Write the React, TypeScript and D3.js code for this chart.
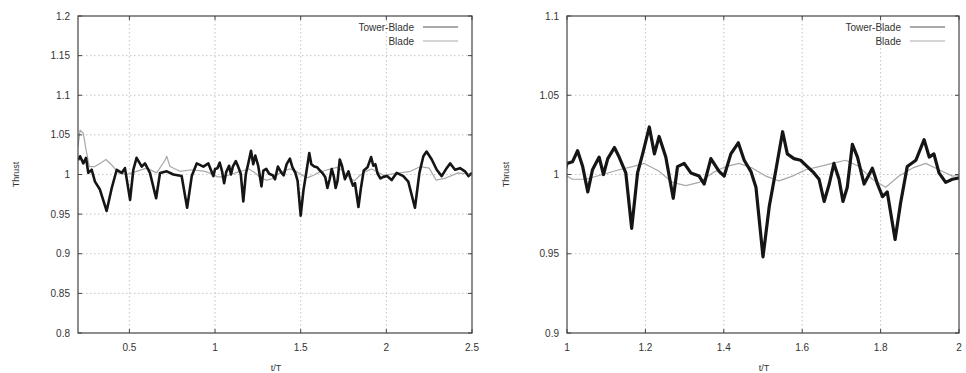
import React, { useRef, useEffect } from 'react';
import * as d3 from 'd3';

// Tower-Blade thrust (t/T, normalised thrust)
const towerT = [
  0.2, 0.212, 0.231, 0.247, 0.26, 0.28, 0.299, 0.328, 0.367, 0.397, 0.426, 0.455, 0.474, 0.504,
  0.523, 0.542, 0.572, 0.591, 0.62, 0.656, 0.679, 0.718, 0.757, 0.805, 0.837, 0.864, 0.893, 0.932,
  0.961, 0.99,
  1.0, 1.014, 1.027, 1.04, 1.053, 1.065, 1.082, 1.093, 1.104, 1.121, 1.133, 1.15, 1.165, 1.18,
  1.193, 1.21, 1.223, 1.235, 1.252, 1.271, 1.282, 1.299, 1.316, 1.337, 1.35, 1.367, 1.388, 1.401,
  1.418, 1.437, 1.452, 1.469, 1.482, 1.5, 1.516, 1.533, 1.55, 1.562, 1.579, 1.596, 1.613, 1.63,
  1.643, 1.656, 1.669, 1.681, 1.694, 1.704, 1.715, 1.728, 1.741, 1.758, 1.779, 1.792, 1.805, 1.817,
  1.837, 1.851, 1.868, 1.89, 1.911, 1.924, 1.936, 1.949, 1.966, 1.983,
  2.004, 2.031, 2.06, 2.099, 2.128, 2.167, 2.193, 2.216, 2.235, 2.265, 2.294, 2.323, 2.352, 2.372,
  2.401, 2.43, 2.459, 2.479, 2.5,
];
const towerV = [
  1.018, 1.023, 1.014, 1.021, 1.002, 1.006, 0.991, 0.981, 0.954, 0.983, 1.006, 1.002, 1.008, 0.968,
  1.006, 1.021, 1.01, 1.014, 1.002, 0.97, 1.002, 1.004, 1.0, 0.998, 0.958, 0.998, 1.014, 1.01,
  1.014, 0.998,
  1.007, 1.008, 1.015, 1.005, 0.989, 1.003, 1.011, 1.0, 1.01, 1.017, 1.011, 1.001, 0.966, 1.001,
  1.013, 1.03, 1.013, 1.024, 1.011, 0.985, 1.005, 1.007, 1.001, 0.999, 0.994, 1.01, 1.002, 0.999,
  1.013, 1.02, 1.009, 1.002, 0.992, 0.948, 0.98, 1.003, 1.027, 1.013, 1.01, 1.009, 1.005, 1.001,
  0.997, 0.983, 0.994, 1.007, 0.997, 0.983, 0.992, 1.019, 1.011, 0.994, 1.004, 0.994, 0.986, 0.989,
  0.959, 0.982, 1.005, 1.009, 1.022, 1.011, 1.013, 1.001, 0.995, 0.997,
  0.998, 0.993, 1.002, 0.998, 0.991, 0.958, 1.002, 1.023, 1.029, 1.019, 1.006, 0.998, 1.008, 1.014,
  1.006, 1.008, 1.004, 0.998, 1.002,
];

// Blade-only thrust
const bladeT = [
  0.2, 0.212, 0.231, 0.247, 0.266, 0.299, 0.328, 0.363, 0.397, 0.436, 0.484, 0.542, 0.601, 0.659,
  0.708, 0.718, 0.737, 0.795, 0.864, 0.942,
  1.0, 1.014, 1.048, 1.091, 1.133, 1.167, 1.197, 1.235, 1.269, 1.303, 1.337, 1.371, 1.405, 1.439,
  1.473, 1.507, 1.541, 1.575, 1.609, 1.643, 1.677, 1.711, 1.745, 1.779, 1.813, 1.847, 1.881, 1.915,
  1.949, 1.983,
  2.08, 2.14, 2.2, 2.25, 2.29, 2.34, 2.42, 2.5,
];
const bladeV = [
  1.035, 1.056, 1.052, 1.031, 1.01, 1.01, 1.014, 1.019, 1.012, 1.002, 1.0, 1.004, 1.008, 1.002,
  1.018, 1.023, 1.01, 1.004, 1.006, 1.004,
  0.999, 0.997, 0.997, 1.0, 1.003, 1.005, 1.007, 1.002, 0.995, 0.993, 0.995, 1.001, 1.005, 1.007,
  1.004, 0.999, 0.996, 0.999, 1.003, 1.005, 1.007, 1.009, 1.005, 0.997, 0.992, 0.999, 1.004, 1.007,
  1.003, 0.999,
  1.002, 1.004, 1.01, 1.008, 0.993, 0.995, 1.002, 1.0,
];

const leftXTicks = [0.5, 1, 1.5, 2, 2.5];
const leftYTicks = [0.8, 0.85, 0.9, 0.95, 1, 1.05, 1.1, 1.15, 1.2];
const rightXTicks = [1, 1.2, 1.4, 1.6, 1.8, 2];
const rightYTicks = [0.9, 0.95, 1, 1.05, 1.1];

interface Panel {
  id: string;
  x0: number; x1: number; y0: number; y1: number;
  xDomain: [number, number];
  yDomain: [number, number];
  xTicks: number[];
  yTicks: number[];
  yLabelX: number;
}

const W = 966;
const H = 373;

const App: React.FC = () => {
  const svgRef = useRef<SVGSVGElement>(null);

  useEffect(() => {
    if (!svgRef.current) return;
    const svg = d3.select(svgRef.current);
    svg.selectAll('*').remove();

    const font = 'Liberation Sans, Arial, sans-serif';
    const textColor = '#333';

    const panels: Panel[] = [
      { id: 'l', x0: 78, x1: 472, y0: 16, y1: 333, xDomain: [0.2, 2.5], yDomain: [0.8, 1.2],
        xTicks: leftXTicks, yTicks: leftYTicks, yLabelX: 16 },
      { id: 'r', x0: 567, x1: 959, y0: 16, y1: 333, xDomain: [1, 2], yDomain: [0.9, 1.1],
        xTicks: rightXTicks, yTicks: rightYTicks, yLabelX: 506 },
    ];

    const tower = towerT.map((t, i) => [t, towerV[i]] as [number, number]);
    const blade = bladeT.map((t, i) => [t, bladeV[i]] as [number, number]);

    const defs = svg.append('defs');

    panels.forEach(p => {
      const x = d3.scaleLinear().domain(p.xDomain).range([p.x0, p.x1]);
      const y = d3.scaleLinear().domain(p.yDomain).range([p.y1, p.y0]);
      const g = svg.append('g');

      // grid
      p.xTicks.filter(t => x(t) > p.x0 + 1 && x(t) < p.x1 - 1).forEach(t => {
        g.append('line')
          .attr('x1', x(t)).attr('x2', x(t))
          .attr('y1', p.y0).attr('y2', p.y1)
          .attr('stroke', '#b8b8b8').attr('stroke-width', 0.8)
          .attr('stroke-dasharray', '1.5,2.5');
      });
      p.yTicks.filter(t => y(t) > p.y0 + 1 && y(t) < p.y1 - 1).forEach(t => {
        g.append('line')
          .attr('x1', p.x0).attr('x2', p.x1)
          .attr('y1', y(t)).attr('y2', y(t))
          .attr('stroke', '#b8b8b8').attr('stroke-width', 0.8)
          .attr('stroke-dasharray', '1.5,2.5');
      });

      // data
      defs.append('clipPath').attr('id', `clip-${p.id}`)
        .append('rect')
        .attr('x', p.x0).attr('y', p.y0)
        .attr('width', p.x1 - p.x0).attr('height', p.y1 - p.y0);

      const line = d3.line<[number, number]>()
        .x(d => x(d[0]))
        .y(d => y(d[1]));

      const data = g.append('g').attr('clip-path', `url(#clip-${p.id})`);
      data.append('path')
        .datum(blade)
        .attr('d', line)
        .attr('fill', 'none')
        .attr('stroke', '#a8a8a8')
        .attr('stroke-width', 1.2)
        .attr('stroke-linejoin', 'round');
      data.append('path')
        .datum(tower)
        .attr('d', line)
        .attr('fill', 'none')
        .attr('stroke', '#151515')
        .attr('stroke-width', p.id === 'l' ? 2.6 : 3.2)
        .attr('stroke-linejoin', 'round');

      // frame
      g.append('rect')
        .attr('x', p.x0).attr('y', p.y0)
        .attr('width', p.x1 - p.x0).attr('height', p.y1 - p.y0)
        .attr('fill', 'none')
        .attr('stroke', '#444')
        .attr('stroke-width', 1.2);

      // inward ticks
      p.xTicks.forEach(t => {
        [[p.y1, p.y1 - 4], [p.y0, p.y0 + 4]].forEach(([a, b]) => {
          g.append('line').attr('x1', x(t)).attr('x2', x(t)).attr('y1', a).attr('y2', b)
            .attr('stroke', '#444').attr('stroke-width', 1);
        });
      });
      p.yTicks.forEach(t => {
        [[p.x0, p.x0 + 4], [p.x1, p.x1 - 4]].forEach(([a, b]) => {
          g.append('line').attr('y1', y(t)).attr('y2', y(t)).attr('x1', a).attr('x2', b)
            .attr('stroke', '#444').attr('stroke-width', 1);
        });
      });

      // tick labels
      p.xTicks.forEach(t => {
        g.append('text')
          .attr('x', x(t)).attr('y', p.y1 + 18)
          .attr('text-anchor', 'middle')
          .attr('font-family', font).attr('font-size', 10)
          .attr('fill', textColor)
          .text(String(t));
      });
      p.yTicks.forEach(t => {
        g.append('text')
          .attr('x', p.x0 - 8).attr('y', y(t))
          .attr('dy', '0.35em')
          .attr('text-anchor', 'end')
          .attr('font-family', font).attr('font-size', 10)
          .attr('fill', textColor)
          .text(String(t));
      });

      // axis labels
      g.append('text')
        .attr('x', (p.x0 + p.x1) / 2 + 1).attr('y', H - 2)
        .attr('text-anchor', 'middle')
        .attr('font-family', font).attr('font-size', 9)
        .attr('fill', textColor)
        .text('t/T');
      g.append('text')
        .attr('transform', `translate(${p.yLabelX + 3},${(p.y0 + p.y1) / 2}) rotate(-90)`)
        .attr('text-anchor', 'middle')
        .attr('font-family', font).attr('font-size', 9)
        .attr('fill', textColor)
        .text('Thrust');

      // legend
      const lx = p.x1 - 58;
      const items = [
        { name: 'Tower-Blade', color: '#555', w: 1 },
        { name: 'Blade', color: '#aaa', w: 1 },
      ];
      items.forEach((it, i) => {
        const ly = p.y0 + 11 + i * 14;
        g.append('text')
          .attr('x', lx).attr('y', ly)
          .attr('dy', '0.35em')
          .attr('text-anchor', 'end')
          .attr('font-family', font).attr('font-size', 10)
          .attr('fill', textColor)
          .text(it.name);
        g.append('line')
          .attr('x1', lx + 9).attr('x2', lx + 44)
          .attr('y1', ly).attr('y2', ly)
          .attr('stroke', it.color).attr('stroke-width', it.w);
      });
    });
  }, []);

  return (
    <svg
      ref={svgRef}
      width={W}
      height={H}
      style={{ position: 'absolute', left: 0, top: 0, background: '#fff' }}
    />
  );
};

export default App;
